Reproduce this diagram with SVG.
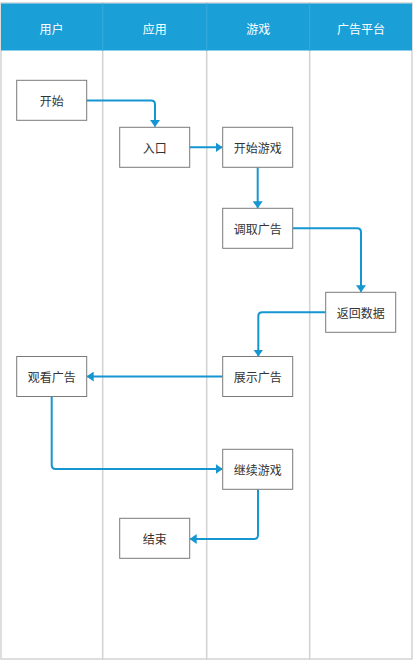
<svg xmlns="http://www.w3.org/2000/svg" width="413" height="662" viewBox="0 0 413 662">
<defs>
<style>
.lane{fill:#ffffff;stroke:#d3d3d3;stroke-width:1.5}
.hdr{fill:#1b9fd7}
.htxt{font-family:"Noto Sans CJK SC","Noto Sans",sans-serif;font-size:12px;fill:#ffffff;text-anchor:middle;dominant-baseline:central}
.box{fill:#ffffff;stroke:#7a7a7a;stroke-width:1}
.txt{font-family:"Noto Sans CJK SC","Noto Sans",sans-serif;font-size:12px;fill:#333333;text-anchor:middle;dominant-baseline:central}
.conn{fill:none;stroke:#1596d1;stroke-width:2}
</style>
<marker id="arr" viewBox="0 0 7 10" refX="6.5" refY="5" markerWidth="3.5" markerHeight="5" orient="auto" markerUnits="strokeWidth">
<path d="M0,0 L7,5 L0,10 z" fill="#1596d1"/>
</marker>
</defs>
<rect x="0" y="0" width="413" height="662" fill="#ffffff"/>
<g id="lanes">
<rect class="lane" x="1" y="3" width="101.7" height="656"/>
<rect class="lane" x="102.7" y="3" width="104" height="656"/>
<rect class="lane" x="206.7" y="3" width="103" height="656"/>
<rect class="lane" x="309.7" y="3" width="102.3" height="656"/>
<rect class="hdr" x="1" y="3.5" width="411" height="47"/>
<line x1="102.7" y1="3.5" x2="102.7" y2="50.5" stroke="#3aa9dc" stroke-width="1"/>
<line x1="206.7" y1="3.5" x2="206.7" y2="50.5" stroke="#3aa9dc" stroke-width="1"/>
<line x1="309.7" y1="3.5" x2="309.7" y2="50.5" stroke="#3aa9dc" stroke-width="1"/>
<text class="htxt" x="51.5" y="28">用户</text>
<text class="htxt" x="154.7" y="28">应用</text>
<text class="htxt" x="258.2" y="28">游戏</text>
<text class="htxt" x="360.9" y="28">广告平台</text>
</g>
<g id="connectors">
<path class="conn" d="M86.7,100.5 H151 Q155,100.5 155,104.5 V126.5" marker-end="url(#arr)"/>
<path class="conn" d="M189.7,147.3 H222" marker-end="url(#arr)"/>
<path class="conn" d="M257.7,167.3 V207.8" marker-end="url(#arr)"/>
<path class="conn" d="M292.7,228.3 H357 Q361,228.3 361,232.3 V291.8" marker-end="url(#arr)"/>
<path class="conn" d="M325.7,312.3 H262.3 Q258.3,312.3 258.3,316.3 V356" marker-end="url(#arr)"/>
<path class="conn" d="M222.7,376.5 H87.2" marker-end="url(#arr)"/>
<path class="conn" d="M51.7,396.3 V465 Q51.7,469 55.7,469 H222.2" marker-end="url(#arr)"/>
<path class="conn" d="M258,489.3 V535 Q258,539 254,539 H190.2" marker-end="url(#arr)"/>
</g>
<g id="n-start"><rect class="box" x="16.7" y="80.3" width="70" height="40"/><text class="txt" x="51.7" y="100.3">开始</text></g>
<g id="n-entry"><rect class="box" x="119.7" y="127.3" width="70" height="40"/><text class="txt" x="154.7" y="147.3">入口</text></g>
<g id="n-startgame"><rect class="box" x="222.7" y="127.3" width="70" height="40"/><text class="txt" x="257.7" y="147.3">开始游戏</text></g>
<g id="n-fetchad"><rect class="box" x="222.7" y="208.3" width="70" height="40"/><text class="txt" x="257.7" y="228.3">调取广告</text></g>
<g id="n-return"><rect class="box" x="325.7" y="292.3" width="70" height="40"/><text class="txt" x="360.7" y="312.3">返回数据</text></g>
<g id="n-watch"><rect class="box" x="16.7" y="356.5" width="70" height="40"/><text class="txt" x="51.7" y="376.5">观看广告</text></g>
<g id="n-show"><rect class="box" x="222.7" y="356.5" width="70" height="40"/><text class="txt" x="257.7" y="376.5">展示广告</text></g>
<g id="n-continue"><rect class="box" x="222.7" y="449.3" width="70" height="40"/><text class="txt" x="257.7" y="469.3">继续游戏</text></g>
<g id="n-end"><rect class="box" x="119.7" y="518.3" width="70" height="40"/><text class="txt" x="154.7" y="538.3">结束</text></g>
</svg>
